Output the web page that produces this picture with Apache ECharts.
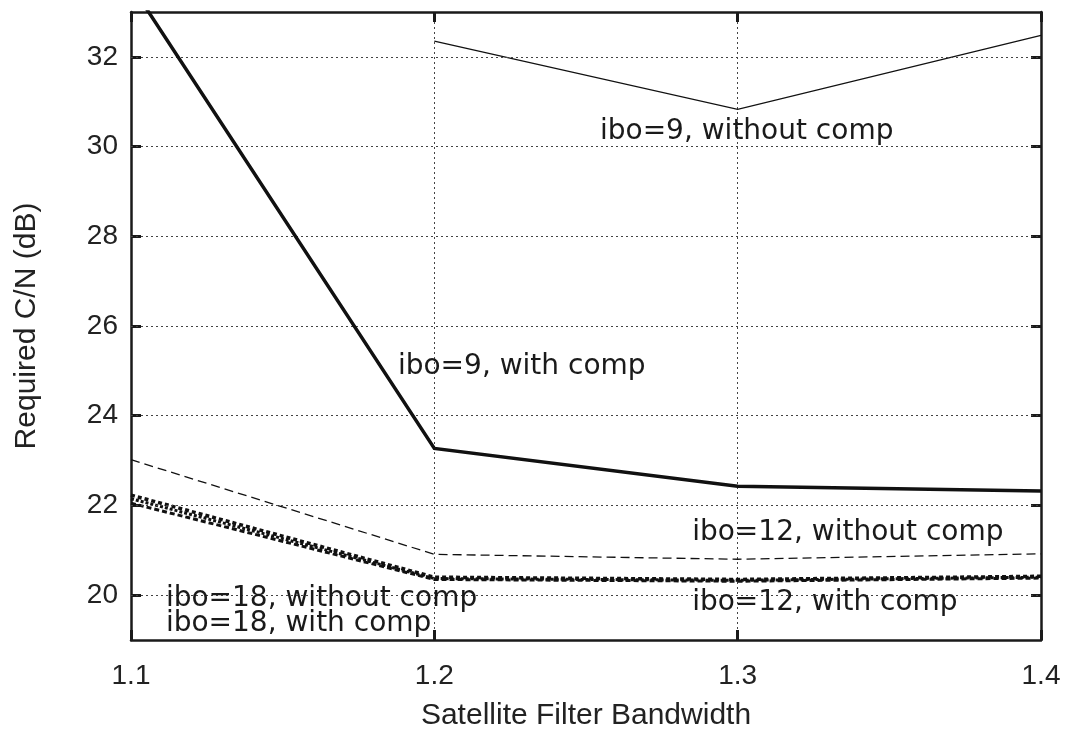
<!DOCTYPE html>
<html>
<head>
<meta charset="utf-8">
<script src="https://cdn.jsdelivr.net/npm/echarts@6/dist/echarts.min.js"></script>
<style>
  html, body { margin: 0; padding: 0; background: #fff; }
  #chart { width: 1070px; height: 736px; }
</style>
</head>
<body>
<div id="chart"></div>
<script>
// Satellite filter bandwidth values (x)
const bandwidth = [1.1, 1.2, 1.3, 1.4];

// Required C/N (dB) per configuration
const ibo9WithComp     = [33.6, 23.27, 22.43, 22.32];
const ibo9WithoutComp  = [null, 32.35, 30.83, 32.48];
const ibo12WithoutComp = [23.02, 20.91, 20.80, 20.92];
const ibo12WithComp    = [22.23, 20.40, 20.35, 20.42];
const ibo18WithoutComp = [22.15, 20.37, 20.33, 20.40];
const ibo18WithComp    = [22.05, 20.35, 20.31, 20.38];

// Tick values
const xTicks = [1.1, 1.2, 1.3, 1.4];
const yTicks = [20, 22, 24, 26, 28, 30, 32];

// Curve annotations: text and anchor [x, y] in data units
const annotations = [
  { text: 'ibo=9, without comp',  at: [1.2546, 30.34] },
  { text: 'ibo=9, with comp',     at: [1.1880, 25.10] },
  { text: 'ibo=12, without comp', at: [1.2850, 21.39] },
  { text: 'ibo=12, with comp',    at: [1.2850, 19.82] },
  { text: 'ibo=18, without comp', at: [1.1115, 19.93] },
  { text: 'ibo=18, with comp',    at: [1.1115, 19.36] }
];

const pairs = ys => bandwidth.map((x, i) => [x, ys[i]]);

const chart = echarts.init(document.getElementById('chart'), null, { renderer: 'canvas' });

const gridLineStyle = { color: '#444', width: 1, type: [2, 3] };
const frameLine = { show: true, onZero: false, lineStyle: { color: '#1a1a1a', width: 2.5 } };
const tickStyle = { show: true, inside: true, length: 10, lineStyle: { color: '#1a1a1a', width: 3 } };
const tickFont = { fontFamily: 'Liberation Sans', fontSize: 28, color: '#222' };
const titleFont = { fontFamily: 'Liberation Sans', fontSize: 30, color: '#222' };

function lineSeries(name, ys, width, dash, z) {
  return {
    name, type: 'line', data: pairs(ys), showSymbol: false, symbol: 'none',
    connectNulls: false, clip: true, z: z || 2,
    lineStyle: { color: '#111', width, type: dash || 'solid', cap: 'butt', join: 'miter' },
    emphasis: { disabled: true }
  };
}

const option = {
  animation: false,
  backgroundColor: '#fff',
  grid: { left: 131, right: 29, top: 12, bottom: 93, containLabel: false },
  xAxis: [
    {
      type: 'value', min: 1.1, max: 1.4, interval: 0.1, position: 'bottom',
      axisLine: frameLine, axisTick: tickStyle,
      splitLine: { show: true, lineStyle: gridLineStyle },
      axisLabel: Object.assign({ margin: 22, formatter: v => v.toFixed(1) }, tickFont),
      name: 'Satellite Filter Bandwidth', nameLocation: 'middle', nameGap: 61,
      nameTextStyle: titleFont
    },
    {
      type: 'value', min: 1.1, max: 1.4, interval: 0.1, position: 'top',
      axisLine: frameLine, axisTick: tickStyle, splitLine: { show: false },
      axisLabel: { show: false }
    }
  ],
  yAxis: [
    {
      type: 'value', min: 19, max: 33, interval: 1, position: 'left',
      axisLine: frameLine,
      axisTick: Object.assign({}, tickStyle, { customValues: yTicks }),
      splitLine: { show: false },
      axisLabel: Object.assign({ margin: 13, customValues: yTicks, formatter: v => String(v) }, tickFont),
      name: 'Required C/N (dB)', nameLocation: 'middle', nameGap: 89,
      nameTextStyle: titleFont
    },
    {
      type: 'value', min: 19, max: 33, interval: 1, position: 'right',
      axisLine: frameLine,
      axisTick: Object.assign({}, tickStyle, { customValues: yTicks }),
      splitLine: { show: false }, axisLabel: { show: false }
    }
  ],
  series: [
    // horizontal grid lines at the labelled C/N ticks
    {
      name: 'grid', type: 'line', data: [], z: 1, silent: true,
      markLine: {
        silent: true, symbol: 'none', animation: false,
        label: { show: false }, lineStyle: gridLineStyle,
        emphasis: { disabled: true },
        data: yTicks.map(v => ({ yAxis: v }))
      }
    },
    lineSeries('ibo=9, with comp', ibo9WithComp, 3.5, 'solid', 5),
    lineSeries('ibo=9, without comp', ibo9WithoutComp, 1.3, 'solid', 4),
    lineSeries('ibo=12, without comp', ibo12WithoutComp, 1.3, [9, 5], 4),
    lineSeries('ibo=12, with comp', ibo12WithComp, 3.5, [4, 3], 3),
    lineSeries('ibo=18, without comp', ibo18WithoutComp, 3, [3, 2], 3),
    lineSeries('ibo=18, with comp', ibo18WithComp, 3, [5, 3], 3),
    {
      name: 'annotations', type: 'scatter', symbolSize: 0, z: 6,
      itemStyle: { opacity: 1 },
      data: annotations.map(a => ({ value: a.at, name: a.text })),
      label: {
        show: true, position: 'right', distance: 0, formatter: p => p.name,
        fontFamily: 'DejaVu Sans', fontSize: 28, color: '#1a1a1a', opacity: 1
      },
      emphasis: { disabled: true }, silent: true
    }
  ]
};

chart.setOption(option);
</script>
</body>
</html>
